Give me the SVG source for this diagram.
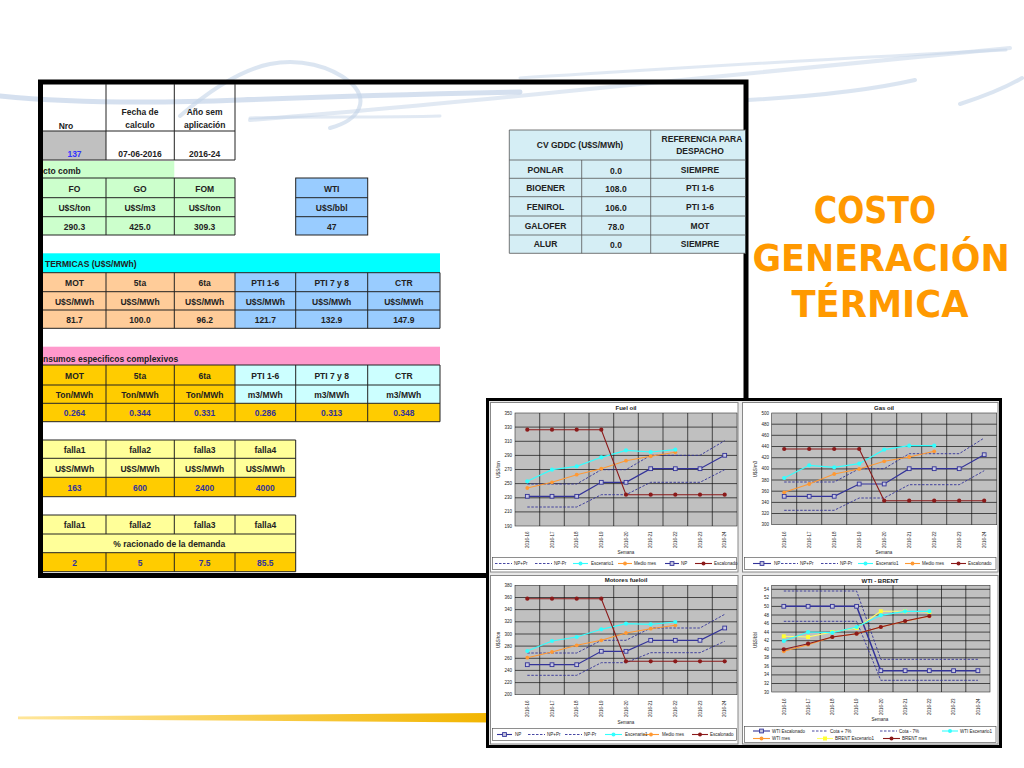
<svg xmlns="http://www.w3.org/2000/svg" width="1024" height="768" viewBox="0 0 1024 768">
<style>
.t{font-family:"Liberation Sans",Arial,sans-serif;font-size:8.5px;font-weight:bold;fill:#222;text-anchor:middle}
.st{text-anchor:start}
.v{fill:#333399}
.ln{stroke:#222;stroke-width:1;fill:none}
.lc{stroke:#555;stroke-width:0.8;fill:none}
.ttl{font-family:"DejaVu Sans",Verdana,sans-serif;font-size:38px;font-weight:bold;fill:#FF9900;text-anchor:middle}
.c{font-family:"Liberation Sans",Arial,sans-serif;font-size:4.5px;fill:#222}
.cy{text-anchor:end}
.cm{text-anchor:middle}
.ct{font-size:6px;text-anchor:middle;font-weight:bold}
.grid{stroke:#111;stroke-width:0.7;fill:none}
.plot{fill:#C0C0C0;stroke:#333;stroke-width:0.6}
.panel{fill:#fff;stroke:#888;stroke-width:1}
.nav{stroke:#333399;stroke-width:1.2;fill:none;marker-start:url(#mN);marker-mid:url(#mN);marker-end:url(#mN)}
.dsh{stroke:#333399;stroke-width:0.9;stroke-dasharray:2.5 1.5;fill:none}
.cyan{stroke:#33FFFF;stroke-width:1.2;fill:none;marker-start:url(#mC);marker-mid:url(#mC);marker-end:url(#mC)}
.org{stroke:#FF9933;stroke-width:1.1;fill:none;marker-start:url(#mO);marker-mid:url(#mO);marker-end:url(#mO)}
.brn{stroke:#8B1A1A;stroke-width:1.1;fill:none;marker-start:url(#mB);marker-mid:url(#mB);marker-end:url(#mB)}
.yel{stroke:#FFFF66;stroke-width:1.1;fill:none;marker-start:url(#mY);marker-mid:url(#mY);marker-end:url(#mY)}
.lg{stroke-width:1.1;fill:none}
.sw{fill:none;stroke:#C3D3E8;stroke-linecap:round}
</style>
<defs>
<marker id="mN" viewBox="-3 -3 6 6" markerWidth="6" markerHeight="6" markerUnits="userSpaceOnUse" refX="0" refY="0"><rect x="-1.9" y="-1.9" width="3.8" height="3.8" fill="#C8C8E0" stroke="#333399" stroke-width="0.9"/></marker>
<marker id="mC" viewBox="-3 -3 6 6" markerWidth="6" markerHeight="6" markerUnits="userSpaceOnUse" refX="0" refY="0"><circle r="2.1" fill="#33FFFF"/></marker>
<marker id="mO" viewBox="-3 -3 6 6" markerWidth="6" markerHeight="6" markerUnits="userSpaceOnUse" refX="0" refY="0"><circle r="1.9" fill="#FF9933"/></marker>
<marker id="mB" viewBox="-3 -3 6 6" markerWidth="6" markerHeight="6" markerUnits="userSpaceOnUse" refX="0" refY="0"><circle r="2.1" fill="#8B1A1A"/></marker>
<marker id="mY" viewBox="-3 -3 6 6" markerWidth="6" markerHeight="6" markerUnits="userSpaceOnUse" refX="0" refY="0"><rect x="-2" y="-2" width="4" height="4" fill="#FFFF33"/></marker>
<linearGradient id="gold" x1="0" y1="0" x2="1" y2="0"><stop offset="0" stop-color="#FFE69A"/><stop offset="1" stop-color="#F2B500"/></linearGradient>
</defs>
<rect width="1024" height="768" fill="#fff"/>

<g id="background">
<path class="sw" stroke-width="5" opacity="0.7" d="M0,96 C60,102 140,104 240,100 C340,96 420,94 520,92"/>
<path class="sw" stroke-width="4" opacity="0.6" d="M180,116 C210,90 240,70 270,64 C300,58 330,66 350,82 C370,100 360,120 330,128"/>
<path class="sw" stroke-width="4" opacity="0.5" d="M250,120 C380,110 520,96 640,84 C760,72 880,60 1010,48"/>
<path class="sw" stroke-width="3" opacity="0.5" d="M520,78 C650,70 800,60 1006,50"/>
<path class="sw" stroke-width="4" opacity="0.6" d="M748,100 C820,96 880,88 915,80"/>
<path class="sw" stroke-width="4" opacity="0.6" d="M960,104 C985,96 1005,88 1022,78"/>
<path class="sw" stroke-width="3" opacity="0.5" d="M250,118 C300,116 380,118 440,116"/>
</g>

<polygon id="gold-line" points="18,716.5 490,713 490,722.5 18,719.2" fill="url(#gold)"/>

<g id="frame">
<rect x="40.5" y="82" width="705.5" height="493.5" fill="none" stroke="#000" stroke-width="5"/>
</g>

<g id="fecha-table">
<rect x="43" y="131" width="63" height="29" fill="#C0C0C0"/>
<path class="ln" d="M106,84V160 M174.3,84V160 M235,84V160 M43,131H235 M43,160H235"/>
<text class="t" x="66" y="129">Nro</text>
<text class="t" x="140" y="115">Fecha de</text>
<text class="t" x="140" y="128">calculo</text>
<text class="t" x="204.7" y="115">Año sem</text>
<text class="t" x="204.7" y="128">aplicación</text>
<text class="t" x="74.5" y="157" style="fill:#3333FF">137</text>
<text class="t" x="140" y="157">07-06-2016</text>
<text class="t" x="204.7" y="157">2016-24</text>
</g>

<g id="combustibles">
<rect x="43" y="161" width="131.3" height="17" fill="#CCFFCC"/>
<text class="t st" x="43" y="174">cto comb</text>
<rect x="43" y="178" width="192" height="57" fill="#CCFFCC"/>
<path class="ln" d="M43,178H235 M43,197.7H235 M43,216.7H235 M43,235H235 M106,178V235 M174.3,178V235 M235,178V235"/>
<text class="t" x="74.5" y="191.5">FO</text>
<text class="t" x="140" y="191.5">GO</text>
<text class="t" x="204.7" y="191.5">FOM</text>
<text class="t" x="74.5" y="210.5">U$S/ton</text>
<text class="t" x="140" y="210.5">U$S/m3</text>
<text class="t" x="204.7" y="210.5">U$S/ton</text>
<text class="t" x="74.5" y="229.5">290.3</text>
<text class="t" x="140" y="229.5">425.0</text>
<text class="t" x="204.7" y="229.5">309.3</text>
</g>

<g id="wti">
<rect x="295.7" y="178" width="72" height="57" fill="#99CCFF" stroke="#222" stroke-width="1"/>
<path class="ln" d="M295.7,197.7H367.7 M295.7,216.7H367.7"/>
<text class="t" x="331.7" y="191.5">WTI</text>
<text class="t" x="331.7" y="210.5">U$S/bbl</text>
<text class="t" x="331.7" y="229.5">47</text>
</g>

<g id="termicas">
<rect x="43" y="253.3" width="397" height="19.4" fill="#00FFFF"/>
<text class="t st" x="45" y="267">TERMICAS (U$S/MWh)</text>
<rect x="43" y="272.7" width="192" height="55.6" fill="#FFCC99"/>
<rect x="235" y="272.7" width="205" height="55.6" fill="#99CCFF"/>
<path class="ln" d="M43,272.7H440 M43,291.7H440 M43,310H440 M43,328.3H440 M106,272.7V328.3 M174.3,272.7V328.3 M235,272.7V328.3 M295.7,272.7V328.3 M367.7,272.7V328.3 M440,272.7V328.3"/>
<text class="t" x="74.5" y="285.5">MOT</text>
<text class="t" x="140" y="285.5">5ta</text>
<text class="t" x="204.7" y="285.5">6ta</text>
<text class="t" x="265.3" y="285.5">PTI 1-6</text>
<text class="t" x="331.7" y="285.5">PTI 7 y 8</text>
<text class="t" x="403.8" y="285.5">CTR</text>
<text class="t" x="74.5" y="304.5">U$S/MWh</text>
<text class="t" x="140" y="304.5">U$S/MWh</text>
<text class="t" x="204.7" y="304.5">U$S/MWh</text>
<text class="t" x="265.3" y="304.5">U$S/MWh</text>
<text class="t" x="331.7" y="304.5">U$S/MWh</text>
<text class="t" x="403.8" y="304.5">U$S/MWh</text>
<text class="t" x="74.5" y="323">81.7</text>
<text class="t" x="140" y="323">100.0</text>
<text class="t" x="204.7" y="323">96.2</text>
<text class="t" x="265.3" y="323">121.7</text>
<text class="t" x="331.7" y="323">132.9</text>
<text class="t" x="403.8" y="323">147.9</text>
</g>

<g id="insumos">
<rect x="43" y="346.7" width="397" height="18.3" fill="#FF99CC"/>
<text class="t st" x="43" y="361.5">nsumos especificos complexivos</text>
<rect x="43" y="365" width="192" height="38.3" fill="#FFCC00"/>
<rect x="235" y="365" width="205" height="38.3" fill="#CCFFFF"/>
<rect x="43" y="403.3" width="397" height="18.4" fill="#FFCC00"/>
<path class="ln" d="M43,365H440 M43,385H440 M43,403.3H440 M43,421.7H440 M106,365V421.7 M174.3,365V421.7 M235,365V421.7 M295.7,365V421.7 M367.7,365V421.7 M440,365V421.7"/>
<text class="t" x="74.5" y="378.5">MOT</text>
<text class="t" x="140" y="378.5">5ta</text>
<text class="t" x="204.7" y="378.5">6ta</text>
<text class="t" x="265.3" y="378.5">PTI 1-6</text>
<text class="t" x="331.7" y="378.5">PTI 7 y 8</text>
<text class="t" x="403.8" y="378.5">CTR</text>
<text class="t" x="74.5" y="397.5">Ton/MWh</text>
<text class="t" x="140" y="397.5">Ton/MWh</text>
<text class="t" x="204.7" y="397.5">Ton/MWh</text>
<text class="t" x="265.3" y="397.5">m3/MWh</text>
<text class="t" x="331.7" y="397.5">m3/MWh</text>
<text class="t" x="403.8" y="397.5">m3/MWh</text>
<text class="t v" x="74.5" y="416">0.264</text>
<text class="t v" x="140" y="416">0.344</text>
<text class="t v" x="204.7" y="416">0.331</text>
<text class="t v" x="265.3" y="416">0.286</text>
<text class="t v" x="331.7" y="416">0.313</text>
<text class="t v" x="403.8" y="416">0.348</text>
</g>

<g id="falla-costos">
<rect x="43" y="440" width="252.7" height="37.3" fill="#FFFF99"/>
<rect x="43" y="477.3" width="252.7" height="19.4" fill="#FFCC00"/>
<path class="ln" d="M43,440H295.7 M43,458.3H295.7 M43,477.3H295.7 M43,496.7H295.7 M106,440V496.7 M174.3,440V496.7 M235,440V496.7 M295.7,440V496.7"/>
<text class="t" x="74.5" y="453">falla1</text>
<text class="t" x="140" y="453">falla2</text>
<text class="t" x="204.7" y="453">falla3</text>
<text class="t" x="265.3" y="453">falla4</text>
<text class="t" x="74.5" y="471.5">U$S/MWh</text>
<text class="t" x="140" y="471.5">U$S/MWh</text>
<text class="t" x="204.7" y="471.5">U$S/MWh</text>
<text class="t" x="265.3" y="471.5">U$S/MWh</text>
<text class="t v" x="74.5" y="490.5">163</text>
<text class="t v" x="140" y="490.5">600</text>
<text class="t v" x="204.7" y="490.5">2400</text>
<text class="t v" x="265.3" y="490.5">4000</text>
</g>

<g id="falla-racionado">
<rect x="43" y="515" width="252.7" height="37.7" fill="#FFFF99"/>
<rect x="43" y="552.7" width="252.7" height="19" fill="#FFCC00"/>
<path class="ln" d="M43,515H295.7 M43,534H295.7 M43,552.7H295.7 M43,571.7H295.7 M106,515V534 M174.3,515V534 M235,515V534 M106,552.7V571.7 M174.3,552.7V571.7 M235,552.7V571.7 M295.7,515V571.7"/>
<text class="t" x="74.5" y="528">falla1</text>
<text class="t" x="140" y="528">falla2</text>
<text class="t" x="204.7" y="528">falla3</text>
<text class="t" x="265.3" y="528">falla4</text>
<text class="t" x="169.3" y="547">% racionado de la demanda</text>
<text class="t v" x="74.5" y="566">2</text>
<text class="t v" x="140" y="566">5</text>
<text class="t v" x="204.7" y="566">7.5</text>
<text class="t v" x="265.3" y="566">85.5</text>
</g>

<g id="cv-gddc">
<rect x="509.3" y="130" width="236" height="123.3" fill="#D5EEF5"/>
<path class="lc" d="M509.3,130H746 M509.3,160H746 M509.3,178.3H746 M509.3,196.7H746 M509.3,216H746 M509.3,235H746 M509.3,253.3H746 M509.3,130V253.3 M581.7,160V253.3 M650.7,130V253.3"/>
<text class="t" x="580" y="148">CV GDDC (U$S/MWh)</text>
<text class="t" x="702" y="141.5">REFERENCIA PARA</text>
<text class="t" x="700" y="153.5">DESPACHO</text>
<text class="t" x="545.5" y="172.5">PONLAR</text>
<text class="t" x="616" y="173.5">0.0</text>
<text class="t" x="700" y="172.5">SIEMPRE</text>
<text class="t" x="545.5" y="191">BIOENER</text>
<text class="t" x="616" y="192">108.0</text>
<text class="t" x="700" y="191">PTI 1-6</text>
<text class="t" x="545.5" y="209.5">FENIROL</text>
<text class="t" x="616" y="210.5">106.0</text>
<text class="t" x="700" y="209.5">PTI 1-6</text>
<text class="t" x="545.5" y="228.5">GALOFER</text>
<text class="t" x="616" y="229.5">78.0</text>
<text class="t" x="700" y="228.5">MOT</text>
<text class="t" x="545.5" y="247">ALUR</text>
<text class="t" x="616" y="247.5">0.0</text>
<text class="t" x="700" y="247">SIEMPRE</text>
</g>

<g id="title">
<text class="ttl" transform="translate(875,223) scale(0.84,1)">COSTO</text>
<text class="ttl" transform="translate(881,270.5) scale(0.92,1)">GENERACIÓN</text>
<text class="ttl" transform="translate(880,316.5) scale(0.93,1)">TÉRMICA</text>
</g>

<g id="charts">
<rect x="487.5" y="399.5" width="513" height="347" fill="#E8E8E8" stroke="#000" stroke-width="3"/>
<rect class="panel" x="490.5" y="402.5" width="247.5" height="169.5"/>
<rect class="panel" x="742.5" y="402.5" width="255.5" height="169.5"/>
<rect class="panel" x="490.5" y="575.5" width="247.5" height="168.5"/>
<rect class="panel" x="742.5" y="575.5" width="255.5" height="168.5"/>

<g id="chart-fuel-oil">
<text class="c ct" x="626" y="410">Fuel oil</text>
<rect class="plot" x="515" y="413" width="222" height="113"/>
<path class="grid" d="M515,427.1H737 M515,441.3H737 M515,455.4H737 M515,469.5H737 M515,483.6H737 M515,497.8H737 M515,511.9H737 M539.7,413V526 M564.3,413V526 M589,413V526 M613.7,413V526 M638.3,413V526 M663,413V526 M687.7,413V526 M712.3,413V526"/>
<g class="c cy">
<text x="512" y="414.5">350</text><text x="512" y="428.6">330</text><text x="512" y="442.8">310</text><text x="512" y="456.9">290</text><text x="512" y="471">270</text><text x="512" y="485.1">250</text><text x="512" y="499.3">230</text><text x="512" y="513.4">210</text><text x="512" y="527.5">190</text>
</g>
<text class="c cm" transform="translate(500,469.5) rotate(-90)">U$S/ton</text>
<polyline class="dsh" points="527.3,484 576.7,484 601.3,469.7 626,469.7 650.7,455.3 700,455.3 724.7,440.7"/>
<polyline class="dsh" points="527.3,507 576.7,507 601.3,494.7 626,494.7 650.7,482.3 700,482.3 724.7,469.7"/>
<polyline class="nav" points="527.3,496.3 552,496.3 576.7,496.3 601.3,482.3 626,482.3 650.7,468.7 675.3,468.7 700,468.7 724.7,455.3"/>
<polyline class="org" points="527.3,488 552,482.3 576.7,474.7 601.3,468.7 626,460.7 650.7,456.3 675.3,452.3"/>
<polyline class="cyan" points="527.3,481.3 552,469.7 576.7,466.3 601.3,457.3 626,450.3 650.7,452 675.3,449.7"/>
<polyline class="brn" points="527.3,429.7 552,429.7 576.7,429.7 601.3,429.7 626,494.7 650.7,494.7 675.3,494.7 700,494.7 724.7,494.7"/>
<g class="c">
<text transform="translate(529,548) rotate(-90)">2016-16</text><text transform="translate(553.7,548) rotate(-90)">2016-17</text><text transform="translate(578.4,548) rotate(-90)">2016-18</text><text transform="translate(603,548) rotate(-90)">2016-19</text><text transform="translate(627.7,548) rotate(-90)">2016-20</text><text transform="translate(652.4,548) rotate(-90)">2016-21</text><text transform="translate(677,548) rotate(-90)">2016-22</text><text transform="translate(701.7,548) rotate(-90)">2016-23</text><text transform="translate(726.4,548) rotate(-90)">2016-24</text>
</g>
<text class="c cm" x="626" y="554">Semana</text>
<rect x="492.5" y="557.5" width="244" height="12" fill="#fff" stroke="#444" stroke-width="0.6"/>
<path class="dsh" d="M495,563.5H512 M535,563.5H552"/>
<path d="M573,563.5H588" class="lg" stroke="#33FFFF"/><circle cx="580.5" cy="563.5" r="2" fill="#33FFFF"/>
<path d="M618,563.5H632" class="lg" stroke="#FF9933"/><circle cx="625" cy="563.5" r="1.9" fill="#FF9933"/>
<path d="M665,563.5H679" class="lg" stroke="#333399"/><rect x="670.1" y="561.6" width="3.8" height="3.8" fill="#C8C8E0" stroke="#333399" stroke-width="0.9"/>
<path d="M695,563.5H712" class="lg" stroke="#8B1A1A"/><circle cx="703.5" cy="563.5" r="2" fill="#8B1A1A"/>
<g class="c"><text x="514" y="565">NP+Pr</text><text x="554" y="565">NP-Pr</text><text x="591" y="565">Escenario1</text><text x="634" y="565">Medio mes</text><text x="681" y="565">NP</text><text x="714" y="565">Escalonado</text></g>
</g>

<g id="chart-gas-oil">
<text class="c ct" x="884" y="410">Gas oil</text>
<rect class="plot" x="771.7" y="413" width="225" height="111.7"/>
<path class="grid" d="M771.7,424.2H996.7 M771.7,435.3H996.7 M771.7,446.5H996.7 M771.7,457.7H996.7 M771.7,468.9H996.7 M771.7,480H996.7 M771.7,491.2H996.7 M771.7,502.4H996.7 M771.7,513.5H996.7 M796.7,413V524.7 M821.7,413V524.7 M846.7,413V524.7 M871.7,413V524.7 M896.7,413V524.7 M921.7,413V524.7 M946.7,413V524.7 M971.7,413V524.7"/>
<g class="c cy">
<text x="769" y="414.5">500</text><text x="769" y="425.7">480</text><text x="769" y="436.8">460</text><text x="769" y="448">440</text><text x="769" y="459.2">420</text><text x="769" y="470.4">400</text><text x="769" y="481.5">380</text><text x="769" y="492.7">360</text><text x="769" y="503.9">340</text><text x="769" y="515">320</text><text x="769" y="526.2">300</text>
</g>
<text class="c cm" transform="translate(757,469) rotate(-90)">U$S/m3</text>
<polyline class="dsh" points="784.2,482 834.2,482 859.2,468.7 884.2,468.7 909.2,453.7 959.2,453.7 984.2,438"/>
<polyline class="dsh" points="784.2,510.3 834.2,510.3 859.2,498 884.2,498 909.2,484.7 959.2,484.7 984.2,470.7"/>
<polyline class="nav" points="784.2,496.3 809.2,496.3 834.2,496.3 859.2,484 884.2,484 909.2,468.7 934.2,468.7 959.2,468.7 984.2,454.7"/>
<polyline class="org" points="784.2,492.3 809.2,484 834.2,474 859.2,469 884.2,461.3 909.2,457 934.2,451.3"/>
<polyline class="cyan" points="784.2,478 809.2,465.3 834.2,467.3 859.2,463.7 884.2,449.7 909.2,445.7 934.2,445.7"/>
<polyline class="brn" points="784.2,449 809.2,449 834.2,449 859.2,449 884.2,500.7 909.2,500.7 934.2,500.7 959.2,500.7 984.2,500.7"/>
<g class="c">
<text transform="translate(785.9,548) rotate(-90)">2016-16</text><text transform="translate(810.9,548) rotate(-90)">2016-17</text><text transform="translate(835.9,548) rotate(-90)">2016-18</text><text transform="translate(860.9,548) rotate(-90)">2016-19</text><text transform="translate(885.9,548) rotate(-90)">2016-20</text><text transform="translate(910.9,548) rotate(-90)">2016-21</text><text transform="translate(935.9,548) rotate(-90)">2016-22</text><text transform="translate(960.9,548) rotate(-90)">2016-23</text><text transform="translate(985.9,548) rotate(-90)">2016-24</text>
</g>
<text class="c cm" x="884" y="554">Semana</text>
<rect x="744.5" y="557.5" width="251.5" height="12" fill="#fff" stroke="#444" stroke-width="0.6"/>
<path d="M753,563.5H771" class="lg" stroke="#333399"/><rect x="760.1" y="561.6" width="3.8" height="3.8" fill="#C8C8E0" stroke="#333399" stroke-width="0.9"/>
<path class="dsh" d="M781,563.5H798 M821,563.5H838"/>
<path d="M858,563.5H873" class="lg" stroke="#33FFFF"/><circle cx="865.5" cy="563.5" r="2" fill="#33FFFF"/>
<path d="M905,563.5H920" class="lg" stroke="#FF9933"/><circle cx="912.5" cy="563.5" r="1.9" fill="#FF9933"/>
<path d="M951,563.5H966" class="lg" stroke="#8B1A1A"/><circle cx="958.5" cy="563.5" r="2" fill="#8B1A1A"/>
<g class="c"><text x="774" y="565">NP</text><text x="800" y="565">NP+Pr</text><text x="840" y="565">NP-Pr</text><text x="876" y="565">Escenario1</text><text x="922" y="565">Medio mes</text><text x="968" y="565">Escalonado</text></g>
</g>

<g id="chart-motores">
<text class="c ct" x="626" y="582">Motores fueloil</text>
<rect class="plot" x="515" y="585.3" width="222" height="109.4"/>
<path class="grid" d="M515,597.5H737 M515,609.6H737 M515,621.8H737 M515,634H737 M515,646.1H737 M515,658.3H737 M515,670.4H737 M515,682.6H737 M539.7,585.3V694.7 M564.3,585.3V694.7 M589,585.3V694.7 M613.7,585.3V694.7 M638.3,585.3V694.7 M663,585.3V694.7 M687.7,585.3V694.7 M712.3,585.3V694.7"/>
<g class="c cy">
<text x="512" y="586.8">380</text><text x="512" y="599">360</text><text x="512" y="611.1">340</text><text x="512" y="623.3">320</text><text x="512" y="635.5">300</text><text x="512" y="647.6">280</text><text x="512" y="659.8">260</text><text x="512" y="671.9">240</text><text x="512" y="684.1">220</text><text x="512" y="696.2">200</text>
</g>
<text class="c cm" transform="translate(500,640) rotate(-90)">U$S/ton</text>
<polyline class="dsh" points="527.3,653 576.7,653 601.3,640.3 626,640.3 650.7,628 700,628 724.7,614.3"/>
<polyline class="dsh" points="527.3,675.3 576.7,675.3 601.3,662.7 626,662.7 650.7,652.7 700,652.7 724.7,641.3"/>
<polyline class="nav" points="527.3,664.7 552,664.7 576.7,664.7 601.3,651.3 626,651.3 650.7,640.3 675.3,640.3 700,640.3 724.7,628"/>
<polyline class="org" points="527.3,657.7 552,652 576.7,645.3 601.3,640.3 626,633 650.7,628.7 675.3,625.3"/>
<polyline class="cyan" points="527.3,651 552,641 576.7,637 601.3,629.3 626,623.7 650.7,624.3 675.3,622"/>
<polyline class="brn" points="527.3,598.7 552,598.7 576.7,598.7 601.3,598.7 626,661.3 650.7,661.3 675.3,661.3 700,661.3 724.7,661.3"/>
<g class="c">
<text transform="translate(529,717) rotate(-90)">2016-16</text><text transform="translate(553.7,717) rotate(-90)">2016-17</text><text transform="translate(578.4,717) rotate(-90)">2016-18</text><text transform="translate(603,717) rotate(-90)">2016-19</text><text transform="translate(627.7,717) rotate(-90)">2016-20</text><text transform="translate(652.4,717) rotate(-90)">2016-21</text><text transform="translate(677,717) rotate(-90)">2016-22</text><text transform="translate(701.7,717) rotate(-90)">2016-23</text><text transform="translate(726.4,717) rotate(-90)">2016-24</text>
</g>
<text class="c cm" x="626" y="724">Semana</text>
<rect x="492.5" y="728.5" width="244" height="12" fill="#fff" stroke="#444" stroke-width="0.6"/>
<path d="M497,734.5H512" class="lg" stroke="#333399"/><rect x="502.6" y="732.6" width="3.8" height="3.8" fill="#C8C8E0" stroke="#333399" stroke-width="0.9"/>
<path class="dsh" d="M528,734.5H545 M565,734.5H582"/>
<path d="M605,734.5H622" class="lg" stroke="#33FFFF"/><circle cx="613.5" cy="734.5" r="2" fill="#33FFFF"/>
<path d="M643,734.5H659" class="lg" stroke="#FF9933"/><circle cx="651" cy="734.5" r="1.9" fill="#FF9933"/>
<path d="M692,734.5H708" class="lg" stroke="#8B1A1A"/><circle cx="700" cy="734.5" r="2" fill="#8B1A1A"/>
<g class="c"><text x="515" y="736">NP</text><text x="547" y="736">NP+Pr</text><text x="584" y="736">NP-Pr</text><text x="625" y="736">Escenario1</text><text x="662" y="736">Medio mes</text><text x="710" y="736">Escalonado</text></g>
</g>

<g id="chart-wti-brent">
<text class="c ct" x="880" y="583">WTI - BRENT</text>
<rect class="plot" x="771.7" y="585.3" width="218.3" height="106.7"/>
<path class="grid" d="M771.7,589.3H990 M771.7,597.9H990 M771.7,606.4H990 M771.7,615H990 M771.7,623.6H990 M771.7,632.1H990 M771.7,640.7H990 M771.7,649.2H990 M771.7,657.8H990 M771.7,666.3H990 M771.7,674.9H990 M771.7,683.5H990 M796,585.3V692 M820.2,585.3V692 M844.5,585.3V692 M868.7,585.3V692 M893,585.3V692 M917.3,585.3V692 M941.5,585.3V692 M965.8,585.3V692"/>
<g class="c cy">
<text x="769" y="590.8">54</text><text x="769" y="599.4">52</text><text x="769" y="607.9">50</text><text x="769" y="616.5">48</text><text x="769" y="625.1">46</text><text x="769" y="633.6">44</text><text x="769" y="642.2">42</text><text x="769" y="650.7">40</text><text x="769" y="659.3">38</text><text x="769" y="667.8">36</text><text x="769" y="676.4">34</text><text x="769" y="685">32</text><text x="769" y="693.5">30</text>
</g>
<text class="c cm" transform="translate(757,640) rotate(-90)">U$S/bbl</text>
<polyline class="dsh" points="783.8,591 856.6,591 880.8,659.3 977.9,659.3"/>
<polyline class="dsh" points="783.8,621.3 856.6,621.3 880.8,680.3 977.9,680.3"/>
<polyline class="nav" style="stroke-width:1.5" points="783.8,606.3 808.1,606.3 832.3,606.3 856.6,606.3 880.8,670.7 905.1,670.7 929.3,670.7 953.6,670.7 977.9,670.7"/>
<polyline class="yel" points="783.8,636.3 808.1,637 832.3,632 856.6,628 880.8,611.3 905.1,611.3 929.3,612"/>
<polyline class="cyan" points="783.8,641 808.1,632 832.3,632.7 856.6,627 880.8,615.3 905.1,611.3 929.3,611.3"/>
<polyline class="org" points="783.8,651.3 808.1,644.7 832.3,637 856.6,633.7 880.8,627 905.1,621.3 929.3,616.3"/>
<polyline class="brn" points="783.8,649.3 808.1,643.7 832.3,637 856.6,633.7 880.8,627 905.1,621 929.3,616"/>
<g class="c">
<text transform="translate(785.5,715) rotate(-90)">2016-16</text><text transform="translate(809.8,715) rotate(-90)">2016-17</text><text transform="translate(834,715) rotate(-90)">2016-18</text><text transform="translate(858.3,715) rotate(-90)">2016-19</text><text transform="translate(882.5,715) rotate(-90)">2016-20</text><text transform="translate(906.8,715) rotate(-90)">2016-21</text><text transform="translate(931,715) rotate(-90)">2016-22</text><text transform="translate(955.3,715) rotate(-90)">2016-23</text><text transform="translate(979.6,715) rotate(-90)">2016-24</text>
</g>
<text class="c cm" x="880" y="721">Semana</text>
<rect x="744.5" y="726.5" width="251.5" height="16" fill="#fff" stroke="#444" stroke-width="0.6"/>
<path d="M753,731H770" class="lg" stroke="#333399"/><rect x="759.6" y="729.1" width="3.8" height="3.8" fill="#C8C8E0" stroke="#333399" stroke-width="0.9"/>
<path class="dsh" d="M812,731H828 M880,731H897"/>
<path d="M942,731H958" class="lg" stroke="#33FFFF"/><circle cx="950" cy="731" r="2" fill="#33FFFF"/>
<path d="M753,738.5H770" class="lg" stroke="#FF9933"/><circle cx="761.5" cy="738.5" r="1.9" fill="#FF9933"/>
<path d="M817,738.5H833" class="lg" stroke="#FFFF66"/><rect x="823" y="736.5" width="4" height="4" fill="#FFFF33"/>
<path d="M883,738.5H900" class="lg" stroke="#8B1A1A"/><circle cx="891.5" cy="738.5" r="2" fill="#8B1A1A"/>
<g class="c"><text x="772" y="732.5">WTI Escalonado</text><text x="830" y="732.5">Cota + 7%</text><text x="899" y="732.5">Cota - 7%</text><text x="960" y="732.5">WTI Escenario1</text><text x="772" y="740">WTI mes</text><text x="835" y="740">BRENT Escenario1</text><text x="902" y="740">BRENT mes</text></g>
</g>
</g>
</svg>
